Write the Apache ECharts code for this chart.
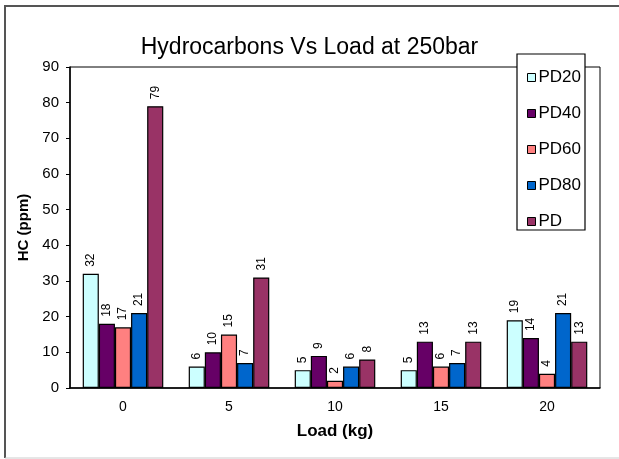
<!DOCTYPE html>
<html>
<head>
<meta charset="utf-8">
<script src="https://cdn.jsdelivr.net/npm/echarts@6/dist/echarts.min.js"></script>
<style>
  html, body { margin: 0; padding: 0; background: #fff; }
  #chart { width: 619px; height: 459px; }
</style>
</head>
<body>
<div id="chart"></div>
<script>
    // loads on x axis
    var loads = ['0', '5', '10', '15', '20'];
    // HC values per series
    var pd20 = [32, 6, 5, 5, 19];
    var pd40 = [18, 10, 9, 13, 14];
    var pd60 = [17, 15, 2, 6, 4];
    var pd80 = [21, 7, 6, 7, 21];
    var pd = [79, 31, 8, 13, 13];
    var seriesNames = ['PD20', 'PD40', 'PD60', 'PD80', 'PD'];
    var seriesColors = ['#ccffff', '#660066', '#ff8080', '#0066cc', '#993366'];

    var font = '"Liberation Sans Narrow", "Liberation Sans", Arial, sans-serif';
    var allData = [pd20, pd40, pd60, pd80, pd];

    var myChart = echarts.init(document.getElementById('chart'));
    var series = allData.map(function (d, i) {
        return {
            name: seriesNames[i],
            type: 'bar',
            data: d,
            barGap: '0%',
            barCategoryGap: '24%',
            itemStyle: {
                color: seriesColors[i],
                borderColor: '#000',
                borderWidth: 1.2
            },
            label: {
                show: true,
                position: 'top',
                rotate: 90,
                align: 'left',
                verticalAlign: 'middle',
                distance: 7,
                fontFamily: font,
                fontSize: 12,
                color: '#000'
            }
        };
    });

    var option = {
        animation: false,
        backgroundColor: '#fff',
        title: {
            text: 'Hydrocarbons Vs Load at 250bar',
            left: 'center',
            top: 31,
            textStyle: {
                fontFamily: font,
                fontSize: 23,
                fontWeight: 'normal',
                color: '#000'
            }
        },
        legend: {
            orient: 'vertical',
            left: 522,
            top: 64,
            itemWidth: 8,
            itemHeight: 8,
            itemGap: 19,
            icon: 'rect',
            z: 20,
            itemStyle: { borderColor: '#000', borderWidth: 1 },
            textStyle: {
                fontFamily: font,
                fontSize: 17,
                lineHeight: 16,
                color: '#000',
                padding: [0, 0, 0, -2]
            },
            data: seriesNames
        },
        grid: {
            left: 70,
            right: 19,
            top: 67,
            bottom: 71,
            show: true,
            borderColor: '#000',
            borderWidth: 1
        },
        xAxis: {
            type: 'category',
            data: loads,
            name: 'Load (kg)',
            nameLocation: 'middle',
            nameGap: 35,
            nameTextStyle: {
                fontFamily: font,
                fontSize: 17,
                fontWeight: 'bold',
                color: '#000'
            },
            axisLine: { lineStyle: { color: '#000', width: 1.5 } },
            axisTick: { show: false },
            axisLabel: {
                margin: 12,
                fontFamily: font,
                fontSize: 14,
                color: '#000'
            }
        },
        yAxis: {
            type: 'value',
            min: 0,
            max: 90,
            interval: 10,
            name: 'HC (ppm)',
            nameLocation: 'middle',
            nameGap: 35,
            nameTextStyle: {
                fontFamily: font,
                fontSize: 15,
                fontWeight: 'bold',
                color: '#000'
            },
            splitLine: { show: false },
            axisLine: { show: true, lineStyle: { color: '#000', width: 1.5 } },
            axisTick: { show: true, length: 4, lineStyle: { color: '#000' } },
            axisLabel: {
                margin: 11,
                fontFamily: font,
                fontSize: 15,
                color: '#000'
            }
        },
        graphic: [
            {
                type: 'rect',
                z: 10,
                shape: { x: 517, y: 54, width: 68, height: 176 },
                style: { fill: '#fff', stroke: '#000', lineWidth: 1.2 }
            },
            {
                type: 'polyline',
                z: 10,
                shape: { points: [[5, 458], [5, 6], [619, 6]] },
                style: { fill: null, stroke: '#555', lineWidth: 2 }
            },
            {
                type: 'line',
                z: 10,
                shape: { x1: 5, y1: 458, x2: 619, y2: 458 },
                style: { stroke: '#ccc', lineWidth: 1 }
            }
        ],
        series: series
    };
    myChart.setOption(option, true);
</script>
</body>
</html>
